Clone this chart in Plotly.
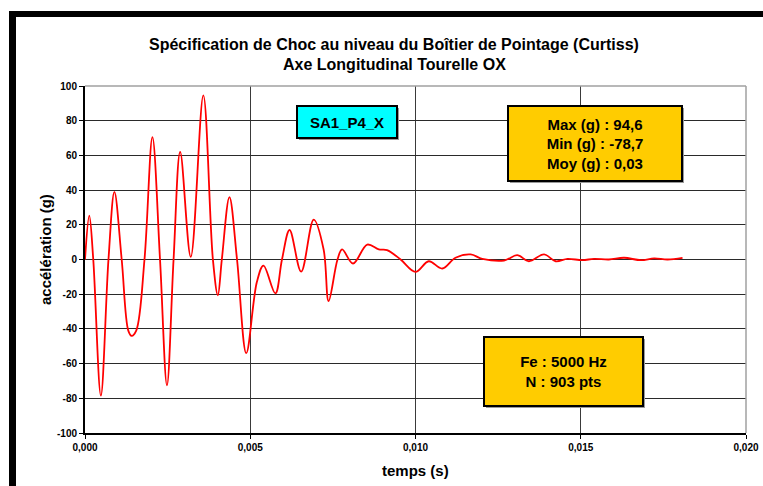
import plotly.graph_objects as go

# ---- data ----
t_s = [0.0, 0.00013, 0.00025, 0.00048, 0.00071, 0.00089, 0.00111, 0.00131, 0.00141, 0.00155,
       0.00180, 0.00204, 0.00227, 0.00248, 0.00268, 0.00288, 0.00320, 0.00358, 0.00387, 0.00402,
       0.00414, 0.00437, 0.00460, 0.00488, 0.00520, 0.00540, 0.00576, 0.00596, 0.00619, 0.00654,
       0.00692, 0.00722, 0.00737, 0.00764, 0.00778, 0.00811, 0.00854, 0.00889, 0.00914, 0.00955,
       0.01000, 0.01040, 0.01081, 0.01121, 0.01167, 0.01202, 0.01268, 0.01308, 0.01343, 0.01389,
       0.01424, 0.01460, 0.01505, 0.01540, 0.01585, 0.01631, 0.01682, 0.01722, 0.01763, 0.01808]
acc_g = [0.0, 25.3, 0.0, -78.5, 0.0, 39.0, 0.0, -41.0, -44.0, -41.0,
         0.0, 70.5, 0.0, -72.5, 0.0, 62.0, 1.5, 94.6, 0.0, -20.6,
         0.0, 36.0, 0.0, -54.0, -13.0, -3.5, -19.5, 0.0, 17.0, -7.0,
         23.0, 5.8, -24.0, 0.0, 5.8, -2.3, 8.6, 5.8, 5.4, 0.0,
         -7.1, -1.0, -5.2, 1.0, 2.9, 0.4, -0.6, 2.5, -1.0, 2.9,
         -1.0, 0.4, -0.4, 0.4, 0.0, 1.0, -0.4, 0.6, 0.0, 1.0]

x_ticks = [0.0, 0.005, 0.010, 0.015, 0.020]
y_ticks = [-100, -80, -60, -40, -20, 0, 20, 40, 60, 80, 100]

title_1 = "Spécification de Choc au niveau du Boîtier de Pointage (Curtiss)"
title_2 = "Axe Longitudinal Tourelle OX"
x_title = "temps (s)"
y_title = "accélération (g)"
label_id = "SA1_P4_X"
stats_text = "Max (g) : 94,6<br>Min (g) : -78,7<br>Moy (g) : 0,03"
acq_text = "Fe : 5000 Hz<br>N : 903 pts"

W, H = 763, 486
L, R, T, B = 85, 746, 86, 433
PW, PH = R - L, B - T

def px(x):
    return (x - L) / PW

def py(y):
    return (B - y) / PH

FONT = "Liberation Sans, Arial, sans-serif"

fig = go.Figure()
fig.add_trace(go.Scatter(x=t_s, y=acc_g, mode="lines",
                         line=dict(color="#ff0000", width=1.8, shape="spline", smoothing=1.0),
                         hoverinfo="skip", showlegend=False))

fig.update_layout(
    width=W, height=H,
    margin=dict(l=L, r=W - R, t=T, b=H - B, pad=0, autoexpand=False),
    paper_bgcolor="white", plot_bgcolor="white",
    separators=", ",
    showlegend=False,
    font=dict(family=FONT, color="black"),
)
fig.update_xaxes(range=[0, 0.020], tickvals=x_ticks, tickformat=".3f", automargin=False,
                 showgrid=True, gridcolor="#3a3a3a", gridwidth=1,
                 showline=True, linecolor="black", linewidth=2, mirror=False,
                 ticks="outside", ticklen=4, tickcolor="black", tickwidth=1,
                 tickfont=dict(family=FONT, size=10, weight="bold", color="black"),
                 zeroline=False)
fig.update_yaxes(range=[-100, 100], tickvals=y_ticks, ticktext=[str(v) for v in y_ticks],
                 automargin=False,
                 showgrid=True, gridcolor="#2a2a2a", gridwidth=1,
                 showline=True, linecolor="black", linewidth=2, mirror=False,
                 ticks="outside", ticklen=4, tickcolor="black", tickwidth=1,
                 tickfont=dict(family=FONT, size=10, weight="bold", color="black"),
                 zeroline=False)

shapes = [
    # plot area top/right border (gray)
    dict(type="line", xref="paper", yref="paper", x0=0, x1=1, y0=1, y1=1,
         line=dict(color="#a0a0a0", width=1.5)),
    dict(type="line", xref="paper", yref="paper", x0=1, x1=1, y0=0, y1=1,
         line=dict(color="#a0a0a0", width=1.5)),
    # outer black frame (left and top)
    dict(type="rect", xref="paper", yref="paper", x0=px(9), x1=px(16), y0=py(H + 5), y1=py(11),
         fillcolor="black", line=dict(width=0), layer="above"),
    dict(type="rect", xref="paper", yref="paper", x0=px(9), x1=px(W + 5), y0=py(17), y1=py(11),
         fillcolor="black", line=dict(width=0), layer="above"),
]
# box shadows
for (x0, y0, x1, y1) in [(297, 106, 397, 138), (508, 106, 682, 181), (484, 337, 643, 406)]:
    shapes.append(dict(type="rect", xref="paper", yref="paper",
                       x0=px(x0 + 2), x1=px(x1 + 2), y0=py(y1 + 2), y1=py(y0 + 2),
                       fillcolor="#9a9a9a", line=dict(width=0), layer="above"))
fig.update_layout(shapes=shapes)

anns = [
    dict(text=title_1, x=px(394), y=py(44), font=dict(size=16, weight="bold")),
    dict(text=title_2, x=px(394), y=py(64), font=dict(size=16, weight="bold")),
    dict(text=x_title, x=px(415), y=py(470), font=dict(size=15, weight="bold")),
    dict(text=y_title, x=px(45), y=py(250), textangle=-90, font=dict(size=15, weight="bold")),
    dict(text=label_id, x=px(347), y=py(122), font=dict(size=15, weight="bold"),
         bgcolor="#00ffff", bordercolor="black", borderwidth=2, width=96, height=28),
    dict(text=stats_text, x=px(595), y=py(143.5), font=dict(size=15, weight="bold"),
         bgcolor="#ffcc00", bordercolor="black", borderwidth=2, width=170, height=71),
    dict(text=acq_text, x=px(563.5), y=py(371.5), font=dict(size=15, weight="bold"),
         bgcolor="#ffcc00", bordercolor="black", borderwidth=2, width=155, height=65),
]
for a in anns:
    a.update(xref="paper", yref="paper", showarrow=False, xanchor="center", yanchor="middle")
    a["font"].update(family=FONT, color="black")
fig.update_layout(annotations=anns)

fig.write_html("out.html", config={"displayModeBar": False, "responsive": False},
               post_script="document.body.style.margin='0';document.body.style.overflow='hidden';")
